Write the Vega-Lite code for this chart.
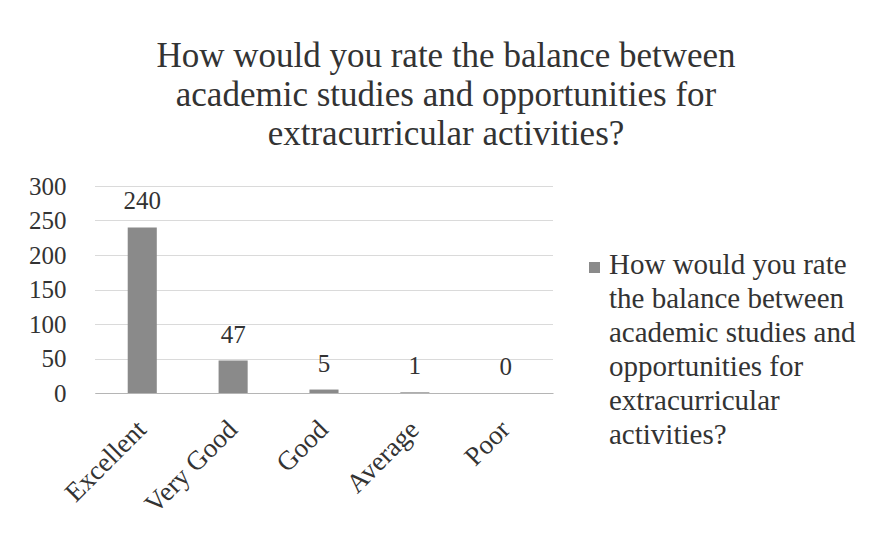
{
  "$schema": "https://vega.github.io/schema/vega-lite/v6.json",
  "autosize": {"type": "none"},
  "width": 458,
  "height": 207,
  "padding": {"left": 95, "top": 186, "right": 318, "bottom": 147},
  "background": "white",
  "title": {
    "text": ["How would you rate the balance between", "academic studies and opportunities for", "extracurricular activities?"],
    "anchor": "middle",
    "frame": "group",
    "dx": 122,
    "offset": 22,
    "font": "Times New Roman, Liberation Serif, serif",
    "fontSize": 35,
    "fontWeight": "normal",
    "lineHeight": 39,
    "color": "#333333"
  },
  "data": {
    "values": [
      {"rating": "Excellent", "count": 240, "series": "How would you rate the balance between academic studies and opportunities for extracurricular activities?"},
      {"rating": "Very Good", "count": 47, "series": "How would you rate the balance between academic studies and opportunities for extracurricular activities?"},
      {"rating": "Good", "count": 5, "series": "How would you rate the balance between academic studies and opportunities for extracurricular activities?"},
      {"rating": "Average", "count": 1, "series": "How would you rate the balance between academic studies and opportunities for extracurricular activities?"},
      {"rating": "Poor", "count": 0, "series": "How would you rate the balance between academic studies and opportunities for extracurricular activities?"}
    ]
  },
  "encoding": {
    "x": {
      "field": "rating",
      "type": "nominal",
      "sort": null,
      "scale": {"paddingInner": 0.68, "paddingOuter": 0.36},
      "axis": {
        "title": null,
        "labelAngle": -45,
        "labelAlign": "right",
        "labelBaseline": "middle",
        "labelFont": "Times New Roman, Liberation Serif, serif",
        "labelFontSize": 27,
        "labelColor": "#333333",
        "ticks": false,
        "domainColor": "#b5b5b5",
        "labelPadding": 32
      }
    },
    "y": {
      "field": "count",
      "type": "quantitative",
      "scale": {"domain": [0, 300]},
      "axis": {
        "title": null,
        "values": [0, 50, 100, 150, 200, 250, 300],
        "labelFont": "Times New Roman, Liberation Serif, serif",
        "labelFontSize": 25,
        "labelColor": "#333333",
        "ticks": false,
        "domain": false,
        "labelPadding": 29,
        "gridColor": "#b5b5b5",
        "gridDash": [1, 1]
      }
    }
  },
  "layer": [
    {
      "mark": {"type": "bar", "color": "#8a8a8a"},
      "encoding": {
        "color": {
          "field": "series",
          "type": "nominal",
          "scale": {"range": ["#8a8a8a"]},
          "legend": {
            "title": null,
            "orient": "none",
            "legendX": 485,
            "legendY": 67,
            "symbolType": "square",
            "symbolSize": 121,
            "symbolStrokeWidth": 0,
            "labelFont": "Times New Roman, Liberation Serif, serif",
            "labelFontSize": 29,
            "labelColor": "#333333",
            "labelLimit": 0,
            "labelOffset": 0,
            "labelBaseline": "middle",
            "labelExpr": "['How would you rate', 'the balance between', 'academic studies and', 'opportunities for', 'extracurricular', 'activities?']",
            "encode": {"labels": {"update": {"lineHeight": {"value": 34}, "dy": {"value": -3}}}}
          }
        }
      }
    },
    {
      "mark": {"type": "text", "font": "Times New Roman, Liberation Serif, serif", "fontSize": 25, "color": "#333333", "baseline": "alphabetic", "dy": -18},
      "encoding": {"text": {"field": "count", "type": "quantitative"}}
    }
  ],
  "config": {"view": {"stroke": null}}
}
